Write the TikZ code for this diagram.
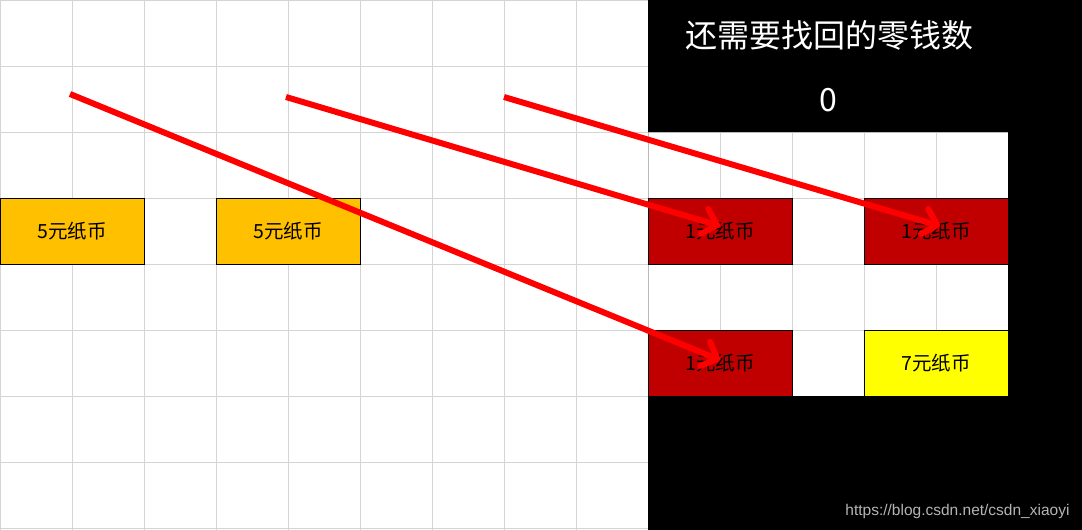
\documentclass[tikz,border=0pt]{standalone}
\usepackage{fontspec}
\newfontfamily\cjk{Noto Sans CJK SC}
\setmainfont{Liberation Sans}
\usetikzlibrary{arrows.meta}
\definecolor{gridgray}{HTML}{D4D4D4}
\definecolor{gold}{HTML}{FFC000}
\definecolor{darkred}{HTML}{C00000}
\definecolor{brightyellow}{HTML}{FFFF00}
\definecolor{arrowred}{HTML}{FF0000}
\definecolor{wmgray}{HTML}{B4B4B4}
\tikzset{
  note/.style={draw=black, line width=1pt, minimum width=144pt, minimum height=66pt, inner sep=0pt, font=\cjk\fontsize{19.5}{22}\selectfont, text=black},
  fivebox/.style={note, fill=gold},
  onebox/.style={note, fill=darkred},
  sevenbox/.style={note, fill=brightyellow},
  flow/.style={draw=arrowred, line width=6pt, -{Straight Barb[length=13pt,width=26pt,line cap=round,line join=round]}}
}
\begin{document}
\begin{tikzpicture}[x=1pt,y=-1pt]
\useasboundingbox (0,0) rectangle (1082,530);
\fill[white] (0,0) rectangle (1082,530);
% grid
\foreach \x in {0.5,72,144,216,288,360,432,504,576,648,720,792,864,936,1008,1080}
  \draw[gridgray, line width=1pt] (\x,0) -- (\x,530);
\foreach \y in {0.5,66,132,198,264,330,396,462,528}
  \draw[gridgray, line width=1pt] (0,\y) -- (1082,\y);
% black panel with white inset
\fill[black, even odd rule] (648,0) rectangle (1082,530) (648,132) rectangle (1008,396);
% title
\node[text=white, font=\cjk\fontsize{32}{36}\selectfont] (title) at (829,35) {还需要找回的零钱数};
\node[text=white, font=\cjk\fontsize{32}{36}\selectfont] (count) at (828,100) {0};
% boxes
\node[fivebox] (a) at (72,231) {5元纸币};
\node[fivebox] (b) at (288,231) {5元纸币};
\node[onebox] (c) at (720,231) {1元纸币};
\node[onebox] (d) at (936,231) {1元纸币};
\node[onebox] (e) at (720,363) {1元纸币};
\node[sevenbox] (f) at (936,363) {7元纸币};
% arrow ends
\coordinate (s1) at (70,94);
\coordinate (s2) at (286,97);
\coordinate (s3) at (504,97);
\coordinate (t1) at (720,360);
\coordinate (t2) at (720,226);
\coordinate (t3) at (940,226);
\draw[flow] (s1) -- (t1);
\draw[flow] (s2) -- (t2);
\draw[flow] (s3) -- (t3);
% watermark
\node[text=wmgray, font=\fontsize{15.5}{17}\selectfont, anchor=east] (wm) at (1073,511) {https://blog.csdn.net/csdn\_xiaoyi};
\end{tikzpicture}
\end{document}
